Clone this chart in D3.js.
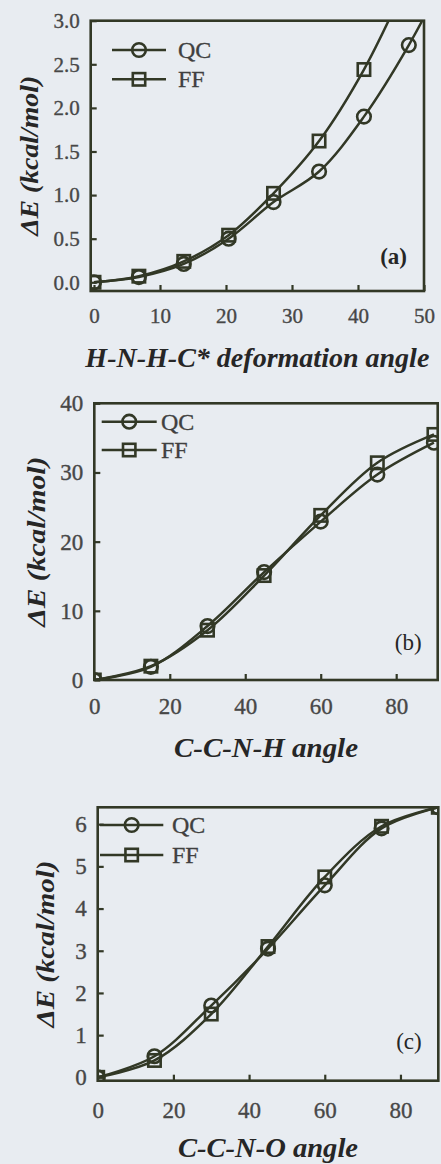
<!DOCTYPE html>
<html>
<head>
<meta charset="utf-8">
<script src="https://cdn.jsdelivr.net/npm/d3@7"></script>
<style>
  html, body { margin: 0; padding: 0; background: #e8ecf1; }
  svg { display: block; }
  text { font-family: "Liberation Serif", "Times New Roman", Times, serif; }
</style>
</head>
<body>
<svg id="chart" width="441" height="1164"></svg>
<script>
// ---- data: torsion / deformation energy scans, quantum chemistry vs force field ----
const seriesNames = ["QC", "FF"];

// (a) H-N-H-C* deformation
const anglesA = [0, 6.8, 13.6, 20.4, 27.2, 34.1, 40.9, 47.7, 54.5];
const qcA = [0, 0.06, 0.21, 0.50, 0.92, 1.27, 1.90, 2.72, 3.70];
const ffA = [0, 0.07, 0.24, 0.54, 1.02, 1.62, 2.44, 3.50];
const xTicksA = [0, 10, 20, 30, 40, 50];
const yTicksA = [0, 0.5, 1.0, 1.5, 2.0, 2.5, 3.0];

// (b) C-C-N-H torsion
const anglesB = [0, 15, 30, 45, 60, 75, 90];
const qcB = [0, 1.9, 7.8, 15.6, 22.9, 29.7, 34.3];
const ffB = [0, 2.0, 7.2, 15.1, 23.8, 31.4, 35.5];
const xTicksB = [0, 20, 40, 60, 80];
const yTicksB = [0, 10, 20, 30, 40];

// (c) C-C-N-O torsion
const anglesC = [0, 15, 30, 45, 60, 75, 90];
const qcC = [0, 0.5, 1.7, 3.05, 4.55, 5.9, 6.4];
const ffC = [0, 0.4, 1.5, 3.1, 4.75, 5.95, 6.4];
const xTicksC = [0, 20, 40, 60, 80];
const yTicksC = [0, 1, 2, 3, 4, 5, 6];

const xTitles = ["H-N-H-C* deformation angle", "C-C-N-H angle", "C-C-N-O angle"];
const yTitle = "\u0394E (kcal/mol)";
const panelTags = ["(a)", "(b)", "(c)"];

// ---- layout and style ----
const ink = "#323826";
const tickInk = "#474747";
const titleInk = "#262626";
const serif = "'Liberation Serif', 'Times New Roman', Times, serif";

const panels = [
  {
    x: anglesA, ys: [qcA, ffA], xTicks: xTicksA, yTicks: yTicksA, yFmt: d3.format(".1f"),
    xDom: [-0.5, 50], yDom: [-0.1, 3.0],
    box: { l: 90.7, r: 424, t: 20.7, b: 291 },
    tickFont: 21, xPad: 17,
    legend: { x1: 112, x2: 166, tx: 178, y: [50, 79.3] },
    tag: { x: 407, y: 264, bold: true },
    xTitle: { y: 367, len: 344, size: 27 },
    yLab: { x: 29, len: 160 }
  },
  {
    x: anglesB, ys: [qcB, ffB], xTicks: xTicksB, yTicks: yTicksB, yFmt: d3.format("d"),
    xDom: [0, 91], yDom: [0, 40],
    box: { l: 94.3, r: 437.7, t: 403.3, b: 680 },
    tickFont: 23, xPad: 18,
    legend: { x1: 101.7, x2: 156.7, tx: 161, y: [421.7, 450] },
    tag: { x: 421.7, y: 650, bold: false },
    xTitle: { y: 757, len: 184, size: 27 },
    yLab: { x: 36, len: 170 }
  },
  {
    x: anglesC, ys: [qcC, ffC], xTicks: xTicksC, yTicks: yTicksC, yFmt: d3.format("d"),
    xDom: [0, 90], yDom: [-0.08, 6.4],
    box: { l: 97.7, r: 438.3, t: 807.3, b: 1080.7 },
    tickFont: 23, xPad: 21,
    legend: { x1: 100, x2: 163.3, tx: 172, y: [825, 855] },
    tag: { x: 421.7, y: 1049, bold: false },
    xTitle: { y: 1157, len: 180, size: 27 },
    yLab: { x: 45, len: 167 }
  }
];

const svg = d3.select("#chart");

function drawMarker(g, kind, cx, cy) {
  if (kind === 0) {
    g.append("circle").attr("cx", cx).attr("cy", cy).attr("r", 6.8)
      .attr("fill", "none").attr("stroke", ink).attr("stroke-width", 2.6);
  } else {
    g.append("rect").attr("x", cx - 6.2).attr("y", cy - 6.2).attr("width", 12.4).attr("height", 12.4)
      .attr("fill", "none").attr("stroke", ink).attr("stroke-width", 2.6);
  }
}

panels.forEach((p, i) => {
  const b = p.box;
  const xs = d3.scaleLinear().domain(p.xDom).range([b.l, b.r]);
  const ys = d3.scaleLinear().domain(p.yDom).range([b.b, b.t]);
  const g = svg.append("g");

  const clipId = "clip" + i;
  svg.append("defs").append("clipPath").attr("id", clipId)
    .append("rect").attr("x", b.l).attr("y", b.t).attr("width", b.r - b.l).attr("height", b.b - b.t);

  // axes with inward ticks
  const yAxis = d3.axisLeft(ys).tickValues(p.yTicks).tickFormat(p.yFmt)
    .tickSizeInner(-6).tickSizeOuter(0).tickPadding(11);
  const xAxis = d3.axisBottom(xs).tickValues(p.xTicks).tickFormat(d3.format("d"))
    .tickSizeInner(-6).tickSizeOuter(0).tickPadding(p.xPad);

  const ya = g.append("g").attr("transform", `translate(${b.l},0)`).call(yAxis);
  const xa = g.append("g").attr("transform", `translate(0,${b.b})`).call(xAxis);
  [ya, xa].forEach(a => {
    a.attr("font-family", null);
    a.select(".domain").remove();
    a.selectAll(".tick line").attr("stroke", ink).attr("stroke-width", 2.2);
    a.selectAll(".tick text").attr("fill", tickInk)
      .attr("stroke", tickInk).attr("stroke-width", 0.35)
      .style("font-size", p.tickFont + "px")
      .style("font-family", serif);
  });

  // series
  const plot = g.append("g").attr("clip-path", `url(#${clipId})`);
  const line = d3.line().curve(d3.curveCatmullRom.alpha(0.5))
    .x(d => xs(d[0])).y(d => ys(d[1]));
  p.ys.forEach((vals, k) => {
    const pts = vals.map((v, j) => [p.x[j], v]);
    plot.append("path").attr("d", line(pts)).attr("fill", "none")
      .attr("stroke", ink).attr("stroke-width", 2.5);
    pts.forEach(d => drawMarker(plot, k, xs(d[0]), ys(d[1])));
  });

  // frame
  g.append("rect").attr("x", b.l).attr("y", b.t).attr("width", b.r - b.l).attr("height", b.b - b.t)
    .attr("fill", "none").attr("stroke", ink).attr("stroke-width", 2.6);

  // legend
  seriesNames.forEach((name, k) => {
    const ly = p.legend.y[k];
    g.append("line").attr("x1", p.legend.x1).attr("x2", p.legend.x2)
      .attr("y1", ly).attr("y2", ly).attr("stroke", ink).attr("stroke-width", 2.6);
    drawMarker(g, k, (p.legend.x1 + p.legend.x2) / 2, ly);
    g.append("text").attr("x", p.legend.tx).attr("y", ly + 8)
      .attr("fill", "#404040").attr("stroke", "#404040").attr("stroke-width", 0.3)
      .style("font-size", "24px").text(name);
  });

  // panel tag
  g.append("text").attr("x", p.tag.x).attr("y", p.tag.y).attr("text-anchor", "end")
    .attr("fill", titleInk).style("font-size", "23px")
    .style("font-weight", p.tag.bold ? "bold" : "normal").text(panelTags[i]);

  // x title
  g.append("text").attr("x", (b.l + b.r) / 2).attr("y", p.xTitle.y).attr("text-anchor", "middle")
    .attr("fill", titleInk).style("font-size", p.xTitle.size + "px")
    .style("font-weight", "bold").style("font-style", "italic")
    .attr("textLength", p.xTitle.len).attr("lengthAdjust", "spacingAndGlyphs")
    .text(xTitles[i]);

  // y title
  g.append("text").attr("transform", `translate(${p.yLab.x},${(b.t + b.b) / 2}) rotate(-90)`)
    .attr("text-anchor", "middle").attr("dy", "0.35em")
    .attr("fill", titleInk).style("font-size", "25px")
    .style("font-weight", "bold").style("font-style", "italic")
    .attr("textLength", p.yLab.len).attr("lengthAdjust", "spacingAndGlyphs")
    .text(yTitle);
});
</script>
</body>
</html>
